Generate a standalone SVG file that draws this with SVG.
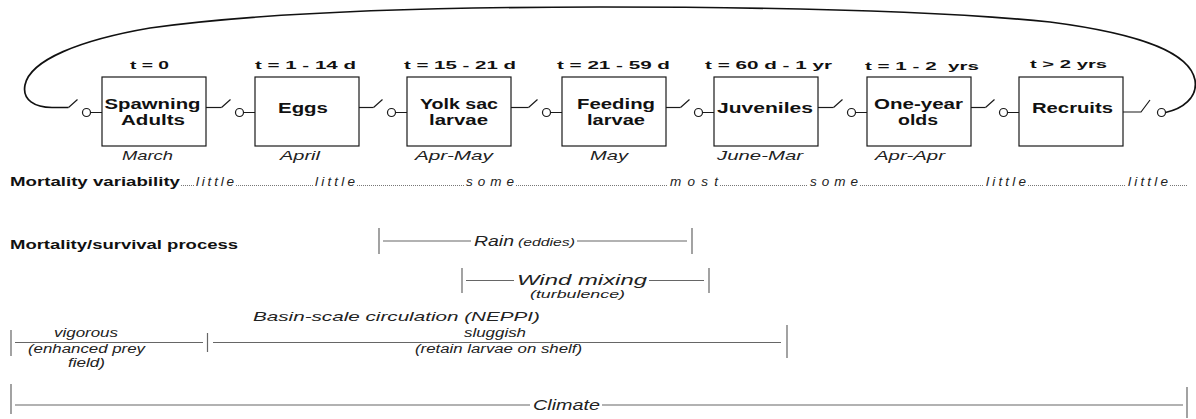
<svg xmlns="http://www.w3.org/2000/svg" width="1196" height="419" viewBox="0 0 1196 419">
<style>
.box{fill:#fff;stroke:#1a1a1a;stroke-width:1.2}
.wire{fill:none;stroke:#1a1a1a;stroke-width:1.2}
.pin{fill:#fff;stroke:#1a1a1a;stroke-width:1.2}
.loop{fill:none;stroke:#111;stroke-width:1.7}
text{font-family:"Liberation Sans",Arial,sans-serif;fill:#111}
.bl{font-size:14px;font-weight:bold}
.b1{font-size:15px;font-weight:bold}
.tl{font-size:11.5px;font-weight:bold}
.ml{font-size:13px;font-style:italic;fill:#222}
.hd{font-size:13.5px;font-weight:bold}
.vw{font-size:13.5px;font-style:italic;fill:#222}
.dots{stroke:#777;stroke-width:1;stroke-dasharray:1 1;fill:none}
.pl{stroke:#666;stroke-width:1.2;fill:none}
.pt{font-style:italic;fill:#222}
</style>
<defs>
<g id="sw">
<path class="wire" d="M-33.5,107.5 L-24.5,99.5 M-11.5,112.5 H0"/>
<circle class="pin" cx="-15.5" cy="112.5" r="4"/>
</g>
</defs>

<g id="connectors">
<path class="loop" d="M1165.5,112.5 C1182,109 1198,98 1195,80 C1190,55 1150,35 1050,22 C950,12 800,7 600,7 C400,7 250,14 150,28 C80,40 30,60 25,85 C22,100 35,107.5 52,107.5 H68.5"/>
<use href="#sw" x="102"/>
<path class="wire" d="M206,107.5 H221.5"/>
<use href="#sw" x="255"/>
<path class="wire" d="M359,107.5 H373.5"/>
<use href="#sw" x="407"/>
<path class="wire" d="M511,107.5 H528.5"/>
<use href="#sw" x="562"/>
<path class="wire" d="M666,107.5 H680.5"/>
<use href="#sw" x="714"/>
<path class="wire" d="M818,107.5 H833.5"/>
<use href="#sw" x="867"/>
<path class="wire" d="M971,107.5 H985.5"/>
<use href="#sw" x="1019"/>
<path class="wire" d="M1123,112 H1141 L1150,100"/>
<circle class="pin" cx="1161.5" cy="112.5" r="4"/>
</g>

<g id="node-spawning">
<text class="tl" x="130" y="69" textLength="39" lengthAdjust="spacingAndGlyphs">t = 0</text>
<rect class="box" x="102" y="77" width="104" height="69"/>
<text class="bl" x="104.5" y="108.5" textLength="96" lengthAdjust="spacingAndGlyphs">Spawning</text>
<text class="bl" x="121" y="125" textLength="64" lengthAdjust="spacingAndGlyphs">Adults</text>
<text class="ml" x="122" y="160" textLength="51" lengthAdjust="spacingAndGlyphs">March</text>
</g>
<g id="node-eggs">
<text class="tl" x="255" y="69" textLength="101" lengthAdjust="spacingAndGlyphs">t = 1 - 14 d</text>
<rect class="box" x="255" y="77" width="104" height="69"/>
<text class="b1" x="278" y="112.5" textLength="50" lengthAdjust="spacingAndGlyphs">Eggs</text>
<text class="ml" x="280" y="160" textLength="40" lengthAdjust="spacingAndGlyphs">April</text>
</g>
<g id="node-yolk">
<text class="tl" x="404" y="69" textLength="112" lengthAdjust="spacingAndGlyphs">t = 15 - 21 d</text>
<rect class="box" x="407" y="77" width="104" height="69"/>
<text class="bl" x="420" y="108.5" textLength="78" lengthAdjust="spacingAndGlyphs">Yolk sac</text>
<text class="bl" x="429" y="125" textLength="59" lengthAdjust="spacingAndGlyphs">larvae</text>
<text class="ml" x="415" y="160" textLength="78" lengthAdjust="spacingAndGlyphs">Apr-May</text>
</g>
<g id="node-feeding">
<text class="tl" x="557" y="69" textLength="113" lengthAdjust="spacingAndGlyphs">t = 21 - 59 d</text>
<rect class="box" x="562" y="77" width="104" height="69"/>
<text class="bl" x="577" y="108.5" textLength="78" lengthAdjust="spacingAndGlyphs">Feeding</text>
<text class="bl" x="587" y="125" textLength="58" lengthAdjust="spacingAndGlyphs">larvae</text>
<text class="ml" x="590" y="160" textLength="38" lengthAdjust="spacingAndGlyphs">May</text>
</g>
<g id="node-juveniles">
<text class="tl" x="705" y="69" textLength="127" lengthAdjust="spacingAndGlyphs">t = 60 d - 1 yr</text>
<rect class="box" x="714" y="77" width="104" height="69"/>
<text class="b1" x="717" y="112.5" textLength="96" lengthAdjust="spacingAndGlyphs">Juveniles</text>
<text class="ml" x="717" y="160" textLength="86" lengthAdjust="spacingAndGlyphs">June-Mar</text>
</g>
<g id="node-oneyear">
<text class="tl" x="865" y="70" textLength="114" lengthAdjust="spacingAndGlyphs" xml:space="preserve">t = 1 - 2  yrs</text>
<rect class="box" x="867" y="77" width="104" height="69"/>
<text class="bl" x="874" y="108.5" textLength="89" lengthAdjust="spacingAndGlyphs">One-year</text>
<text class="bl" x="898" y="125" textLength="40" lengthAdjust="spacingAndGlyphs">olds</text>
<text class="ml" x="875" y="160" textLength="70" lengthAdjust="spacingAndGlyphs">Apr-Apr</text>
</g>
<g id="node-recruits">
<text class="tl" x="1030" y="68" textLength="77" lengthAdjust="spacingAndGlyphs">t &gt; 2 yrs</text>
<rect class="box" x="1019" y="77" width="104" height="69"/>
<text class="b1" x="1032" y="112.5" textLength="81" lengthAdjust="spacingAndGlyphs">Recruits</text>
</g>

<g id="variability">
<text class="hd" x="10" y="186" textLength="170" lengthAdjust="spacingAndGlyphs">Mortality variability</text>
<path class="dots" d="M181,185.5 H194 M236,185.5 H313 M357,185.5 H464 M516,185.5 H668 M720,185.5 H808 M860,185.5 H984 M1028,185.5 H1126 M1170,185.5 H1188"/>
<text class="vw" x="196" y="186" textLength="38" lengthAdjust="spacing">little</text>
<text class="vw" x="315" y="186" textLength="40" lengthAdjust="spacing">little</text>
<text class="vw" x="466" y="186" textLength="48" lengthAdjust="spacing">some</text>
<text class="vw" x="670" y="186" textLength="48" lengthAdjust="spacing">most</text>
<text class="vw" x="810" y="186" textLength="48" lengthAdjust="spacing">some</text>
<text class="vw" x="986" y="186" textLength="40" lengthAdjust="spacing">little</text>
<text class="vw" x="1128" y="186" textLength="40" lengthAdjust="spacing">little</text>
</g>

<g id="process">
<text class="hd" x="10" y="249" textLength="228" lengthAdjust="spacingAndGlyphs">Mortality/survival process</text>
</g>

<g id="rain">
<path class="pl" d="M379,228 V254 M383,241 H471 M577,241 H687 M692,228 V254"/>
<text class="pt" x="474" y="246" font-size="14" textLength="40" lengthAdjust="spacingAndGlyphs">Rain</text>
<text class="pt" x="518" y="246" font-size="11" textLength="57" lengthAdjust="spacingAndGlyphs">(eddies)</text>
</g>

<g id="wind">
<path class="pl" d="M462,268 V293 M466,280.5 H514 M649,280.5 H704 M709,268 V293"/>
<text class="pt" x="517" y="285" font-size="14.5" textLength="130" lengthAdjust="spacingAndGlyphs">Wind mixing</text>
<text class="pt" x="530" y="298" font-size="11" textLength="95" lengthAdjust="spacingAndGlyphs">(turbulence)</text>
</g>

<g id="basin">
<text class="pt" x="253" y="321" font-size="13.5" textLength="287" lengthAdjust="spacingAndGlyphs">Basin-scale circulation (NEPPI)</text>
<path class="pl" d="M11,330 V356 M15,342.5 H203 M207.5,333 V352 M213,342.5 H781 M787,325 V358"/>
<text class="pt" x="54" y="337" font-size="12" textLength="64" lengthAdjust="spacingAndGlyphs">vigorous</text>
<text class="pt" x="28" y="353" font-size="12" textLength="117" lengthAdjust="spacingAndGlyphs">(enhanced prey</text>
<text class="pt" x="68" y="367" font-size="12" textLength="37" lengthAdjust="spacingAndGlyphs">field)</text>
<text class="pt" x="464" y="337" font-size="12" textLength="62" lengthAdjust="spacingAndGlyphs">sluggish</text>
<text class="pt" x="415" y="353" font-size="12" textLength="167" lengthAdjust="spacingAndGlyphs">(retain larvae on shelf)</text>
</g>

<g id="climate">
<path class="pl" d="M11,384 V414 M15,405 H530 M602,405 H1183 M1187,387 V418"/>
<text class="pt" x="533" y="410" font-size="14" textLength="67" lengthAdjust="spacingAndGlyphs">Climate</text>
</g>
</svg>
